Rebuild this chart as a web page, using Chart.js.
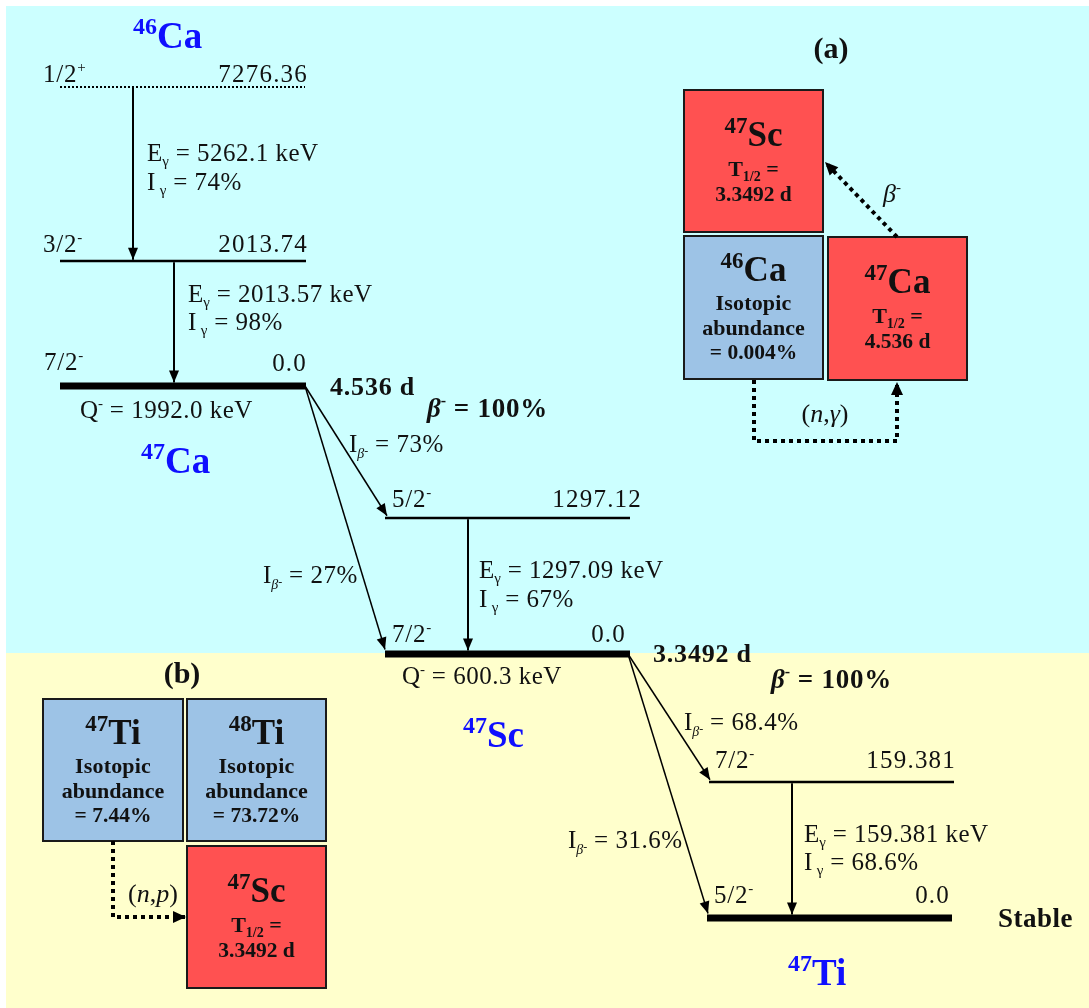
<!DOCTYPE html>
<html>
<head>
<meta charset="utf-8">
<title>46Ca(n,γ)47Ca → 47Sc → 47Ti</title>
<script src="https://cdn.jsdelivr.net/npm/chart.js@4.4.1/dist/chart.umd.min.js"></script>
<style>
  html, body { margin: 0; padding: 0; background: #ffffff; }
  #wrap { width: 1089px; height: 1008px; position: relative; }
</style>
</head>
<body>
<div id="wrap"><canvas id="scheme"></canvas></div>
<script>
// ---- Nuclear data -------------------------------------------------------
// Levels, in drawing order: 46Ca capture state, 46Ca+n levels, 47Ca g.s., 47Sc levels, 47Ti levels
const levelSpins    = ['1/2', '3/2', '7/2', '5/2', '7/2', '7/2', '5/2'];
const levelParities = ['+', '-', '-', '-', '-', '-', '-'];
const levelEnergies = ['7276.36', '2013.74', '0.0', '1297.12', '0.0', '159.381', '0.0'];

const gammaEnergies    = ['5262.1', '2013.57', '1297.09', '159.381'];
const gammaIntensities = ['74%', '98%', '67%', '68.6%'];
const betaIntensities  = ['73%', '27%', '68.4%', '31.6%'];

const halfLives    = ['4.536 d', '3.3492 d'];
const betaBranches = ['100%', '100%'];
const qValues      = ['1992.0', '600.3'];

const schemeMass   = ['46', '47', '47', '47'];
const schemeSymbol = ['Ca', 'Ca', 'Sc', 'Ti'];

// Production panels (a) and (b)
const panelMass   = ['47', '46', '47', '47', '48', '47'];
const panelSymbol = ['Sc', 'Ca', 'Ca', 'Ti', 'Ti', 'Sc'];
const panelHalfLife  = [1, null, 0, null, null, 1];   // index into halfLives
const panelAbundance = [null, 0, null, 1, 2, null];   // index into abundances
const abundances = ['0.004%', '7.44%', '73.72%'];
const reactions  = [['n', 'γ'], ['n', 'p']];

// ---- Page layout (diagram units: x 0..1089, y 0..1008 downwards) --------
const levelLayout = [
  { x0: 60,  x1: 305, y: 87,  w: 2, dash: [2, 2] },
  { x0: 60,  x1: 306, y: 261, w: 2.5 },
  { x0: 60,  x1: 306, y: 386, w: 7 },
  { x0: 385, x1: 630, y: 518, w: 2.5 },
  { x0: 385, x1: 630, y: 654, w: 7 },
  { x0: 709, x1: 954, y: 782, w: 2.5 },
  { x0: 707, x1: 952, y: 918, w: 7 }
];
const gammaLayout = [
  { from: 0, to: 1, x: 133 },
  { from: 1, to: 2, x: 174 },
  { from: 3, to: 4, x: 468 },
  { from: 5, to: 6, x: 792 }
];
const betaLayout = [
  { from: 2, to: 3, x0: 305, x1: 387 },
  { from: 2, to: 4, x0: 305, x1: 385 },
  { from: 4, to: 5, x0: 628, x1: 710 },
  { from: 4, to: 6, x0: 628, x1: 708 }
];
const boxLayout = [
  { x0: 684, y0: 90,  x1: 823, y1: 232 },
  { x0: 684, y0: 236, x1: 823, y1: 379 },
  { x0: 828, y0: 237, x1: 967, y1: 380 },
  { x0: 43,  y0: 699, x1: 183, y1: 841 },
  { x0: 187, y0: 699, x1: 326, y1: 841 },
  { x0: 187, y0: 846, x1: 326, y1: 988 }
];
// Dotted production paths: [(n,γ) in (a), β- in (a), (n,p) in (b)]
const pathLayout = [
  [[754, 380], [754, 441], [897, 441], [897, 382]],
  [[897, 237], [825, 162]],
  [[113, 841], [113, 917], [186, 917]]
];
const bands = [
  { x0: 6, x1: 1089, y0: 6,   y1: 653,  color: '#ccffff' },
  { x0: 6, x1: 1089, y0: 653, y1: 1008, color: '#ffffcc' }
];

const BLUE = '#0f0fff';
const RED_BOX = '#ff5151';
const BLUE_BOX = '#9dc3e6';
const INK = '#111111';

// ---- Datasets ----------------------------------------------------------
const datasets = [];
levelLayout.forEach((L) => {
  datasets.push({
    data: [{ x: L.x0, y: L.y }, { x: L.x1, y: L.y }],
    showLine: true, borderColor: '#000', borderWidth: L.w,
    borderDash: L.dash || [], pointRadius: 0, clip: false
  });
});
gammaLayout.forEach((G) => {
  const a = levelLayout[G.from], b = levelLayout[G.to];
  datasets.push({
    data: [{ x: G.x, y: a.y + a.w / 2 }, { x: G.x, y: b.y - b.w / 2 }],
    showLine: true, borderColor: '#000', borderWidth: 2,
    pointRadius: 0, clip: false, arrowHead: { len: 12, half: 5 }
  });
});
betaLayout.forEach((B) => {
  const a = levelLayout[B.from], b = levelLayout[B.to];
  datasets.push({
    data: [{ x: B.x0, y: a.y }, { x: B.x1, y: b.y - b.w / 2 - 1 }],
    showLine: true, borderColor: '#000', borderWidth: 1.5,
    pointRadius: 0, clip: false, arrowHead: { len: 12, half: 5 }
  });
});
pathLayout.forEach((P) => {
  datasets.push({
    data: P.map(([x, y]) => ({ x, y })),
    showLine: true, borderColor: '#000', borderWidth: 4,
    borderDash: [4, 4], pointRadius: 0, clip: false,
    arrowHead: { len: 13, half: 6 }
  });
});

// ---- Text helpers ------------------------------------------------------
const F = (size, weight = 'normal', style = 'normal') =>
  `${style} ${weight} ${size}px "Liberation Serif", "Times New Roman", serif`;
const N = 25;
const run = (t, size, o = {}) => ({
  t, font: F(size, o.w || 'normal', o.s || 'normal'),
  dy: o.dy || 0, ls: o.ls ?? 0.5, color: o.c || INK, gap: o.gap || 0
});

const spinText = (i) => [run(levelSpins[i], N, { ls: 0.8 }), run(levelParities[i], 15, { dy: -10, ls: 0 })];
const energyText = (i) => [run(levelEnergies[i], N, { ls: 1.2 })];
const eGammaText = (k) => [run('E', N, { ls: 0 }), run('γ', 15, { dy: 5, ls: 0 }),
  run(' = ' + gammaEnergies[k] + ' keV', N)];
const iGammaText = (k) => [run('I', N, { gap: 4 }), run('γ', 15, { dy: 5, ls: 0 }),
  run(' = ' + gammaIntensities[k], N)];
const iBetaText = (k) => [run('I', N, { ls: 0 }), run('β', 14, { s: 'italic', dy: 6, ls: 0 }),
  run('-', 12, { dy: 3, ls: 0 }), run(' = ' + betaIntensities[k], N)];
const qText = (k) => [run('Q', N, { ls: 0 }), run('-', 15, { dy: -10, ls: 0 }),
  run(' = ' + qValues[k] + ' keV', N)];
const halfLifeText = (k) => [run(halfLives[k], 26, { w: 'bold', ls: 0.8 })];
const branchText = (k) => [run('β', 27, { w: 'bold', s: 'italic', ls: 0 }),
  run('-', 16, { w: 'bold', dy: -11, ls: 0 }), run(' = ' + betaBranches[k], 27, { w: 'bold', ls: 0.8 })];
const nuclideText = (k) => [run(schemeMass[k], 24, { w: 'bold', dy: -14, c: BLUE, ls: 0 }),
  run(schemeSymbol[k], 37, { w: 'bold', c: BLUE, ls: 0 })];
const reactionText = (r) => [run('(', 26, { ls: 0 }), run(reactions[r][0], 26, { s: 'italic', ls: 0 }),
  run(',', 26, { ls: 0 }), run(reactions[r][1], 26, { s: 'italic', ls: 0 }), run(')', 26, { ls: 0 })];

// Text anchors: [x, baseline y, align, runs]
const schemeLabels = [
  [133, 48, 'left', nuclideText(0)],
  [43, 82, 'left', spinText(0)], [308, 82, 'right', energyText(0)],
  [147, 161, 'left', eGammaText(0)], [147, 190, 'left', iGammaText(0)],
  [43, 252, 'left', spinText(1)], [308, 252, 'right', energyText(1)],
  [188, 302, 'left', eGammaText(1)], [188, 330, 'left', iGammaText(1)],
  [44, 370, 'left', spinText(2)], [307, 371, 'right', energyText(2)],
  [80, 418, 'left', qText(0)],
  [141, 473, 'left', nuclideText(1)],
  [330, 395, 'left', halfLifeText(0)],
  [427, 417, 'left', branchText(0)],
  [349, 452, 'left', iBetaText(0)],
  [392, 507, 'left', spinText(3)], [642, 507, 'right', energyText(3)],
  [479, 578, 'left', eGammaText(2)], [479, 607, 'left', iGammaText(2)],
  [263, 583, 'left', iBetaText(1)],
  [392, 642, 'left', spinText(4)], [626, 642, 'right', energyText(4)],
  [402, 684, 'left', qText(1)],
  [463, 747, 'left', nuclideText(2)],
  [653, 662, 'left', halfLifeText(1)],
  [771, 688, 'left', branchText(1)],
  [684, 730, 'left', iBetaText(2)],
  [715, 768, 'left', spinText(5)], [956, 768, 'right', energyText(5)],
  [804, 842, 'left', eGammaText(3)], [804, 870, 'left', iGammaText(3)],
  [568, 848, 'left', iBetaText(3)],
  [714, 903, 'left', spinText(6)], [950, 903, 'right', energyText(6)],
  [998, 927, 'left', [run('Stable', 27, { w: 'bold', ls: 0.5 })]],
  [788, 985, 'left', nuclideText(3)],
  // production panels
  [831, 58, 'center', [run('(a)', 30, { w: 'bold', ls: 0 })]],
  [182, 683, 'center', [run('(b)', 30, { w: 'bold', ls: 0 })]],
  [883, 202, 'left', [run('β', 26, { s: 'italic', ls: 0 }), run('-', 15, { dy: -10, ls: 0 })]],
  [825, 422, 'center', reactionText(0)],
  [153, 902, 'center', reactionText(1)]
];

// Contents of each nuclide box
const boxLabels = [];
boxLayout.forEach((B, i) => {
  const cx = (B.x0 + B.x1) / 2;
  const nuc = [run(panelMass[i], 23, { w: 'bold', dy: -13, ls: 0 }), run(panelSymbol[i], 35, { w: 'bold', ls: 0 })];
  if (panelHalfLife[i] !== null) {
    boxLabels.push([cx, B.y0 + 56, 'center', nuc]);
    boxLabels.push([cx, B.y0 + 86, 'center',
      [run('T', 22, { w: 'bold', ls: 0 }), run('1/2', 14, { w: 'bold', dy: 5, ls: 0 }), run(' =', 22, { w: 'bold', ls: 0 })]]);
    boxLabels.push([cx, B.y0 + 111, 'center', [run(halfLives[panelHalfLife[i]], 21.5, { w: 'bold', ls: 0 })]]);
  } else {
    boxLabels.push([cx, B.y0 + 45, 'center', nuc]);
    boxLabels.push([cx, B.y0 + 74, 'center', [run('Isotopic', 22, { w: 'bold', ls: 0.2 })]]);
    boxLabels.push([cx, B.y0 + 99, 'center', [run('abundance', 22, { w: 'bold', ls: 0 })]]);
    boxLabels.push([cx, B.y0 + 123, 'center', [run('= ' + abundances[panelAbundance[i]], 21.5, { w: 'bold', ls: 0 })]]);
  }
});

function drawRich(ctx, px, py, align, runs) {
  const widths = runs.map((r) => {
    ctx.font = r.font;
    ctx.letterSpacing = r.ls + 'px';
    return ctx.measureText(r.t).width + r.gap;
  });
  const total = widths.reduce((a, b) => a + b, 0);
  let x = align === 'center' ? px - total / 2 : align === 'right' ? px - total : px;
  runs.forEach((r, i) => {
    ctx.font = r.font;
    ctx.letterSpacing = r.ls + 'px';
    ctx.fillStyle = r.color;
    ctx.fillText(r.t, x, py + r.dy);
    x += widths[i];
  });
  ctx.letterSpacing = '0px';
}

// ---- Plugins -----------------------------------------------------------
const backgroundPlugin = {
  id: 'bands',
  beforeDatasetsDraw(chart) {
    const { ctx, scales: { x, y } } = chart;
    ctx.save();
    bands.forEach((b) => {
      const l = x.getPixelForValue(b.x0), r = x.getPixelForValue(b.x1);
      const t = y.getPixelForValue(b.y0), btm = y.getPixelForValue(b.y1);
      ctx.fillStyle = b.color;
      ctx.fillRect(l, t, r - l, btm - t);
    });
    boxLayout.forEach((B, i) => {
      const l = x.getPixelForValue(B.x0), r = x.getPixelForValue(B.x1);
      const t = y.getPixelForValue(B.y0), btm = y.getPixelForValue(B.y1);
      ctx.fillStyle = panelHalfLife[i] !== null ? RED_BOX : BLUE_BOX;
      ctx.fillRect(l, t, r - l, btm - t);
      ctx.lineWidth = 2;
      ctx.strokeStyle = '#1a1a1a';
      ctx.strokeRect(l, t, r - l, btm - t);
    });
    ctx.restore();
  }
};

const arrowPlugin = {
  id: 'arrowHeads',
  afterDatasetsDraw(chart) {
    const ctx = chart.ctx;
    ctx.save();
    chart.data.datasets.forEach((ds, i) => {
      if (!ds.arrowHead) return;
      const pts = chart.getDatasetMeta(i).data;
      const tip = pts[pts.length - 1], prev = pts[pts.length - 2];
      const ang = Math.atan2(tip.y - prev.y, tip.x - prev.x);
      const { len, half } = ds.arrowHead;
      ctx.fillStyle = '#000';
      ctx.beginPath();
      ctx.moveTo(tip.x, tip.y);
      ctx.lineTo(tip.x - len * Math.cos(ang) + half * Math.sin(ang), tip.y - len * Math.sin(ang) - half * Math.cos(ang));
      ctx.lineTo(tip.x - len * Math.cos(ang) - half * Math.sin(ang), tip.y - len * Math.sin(ang) + half * Math.cos(ang));
      ctx.closePath();
      ctx.fill();
    });
    ctx.restore();
  }
};

const labelPlugin = {
  id: 'schemeLabels',
  afterDraw(chart) {
    const { ctx, scales: { x, y } } = chart;
    ctx.save();
    ctx.textBaseline = 'alphabetic';
    ctx.textAlign = 'left';
    schemeLabels.concat(boxLabels).forEach(([lx, ly, align, runs]) => {
      drawRich(ctx, x.getPixelForValue(lx), y.getPixelForValue(ly), align, runs);
    });
    ctx.restore();
  }
};

new Chart(document.getElementById('scheme'), {
  type: 'scatter',
  data: { datasets },
  options: {
    responsive: true,
    maintainAspectRatio: false,
    animation: false,
    events: [],
    layout: { padding: 0 },
    scales: {
      x: { type: 'linear', min: 0, max: 1089, display: false },
      y: { type: 'linear', min: 0, max: 1008, reverse: true, display: false }
    },
    plugins: { legend: { display: false }, tooltip: { enabled: false } }
  },
  plugins: [backgroundPlugin, arrowPlugin, labelPlugin]
});
</script>
</body>
</html>
